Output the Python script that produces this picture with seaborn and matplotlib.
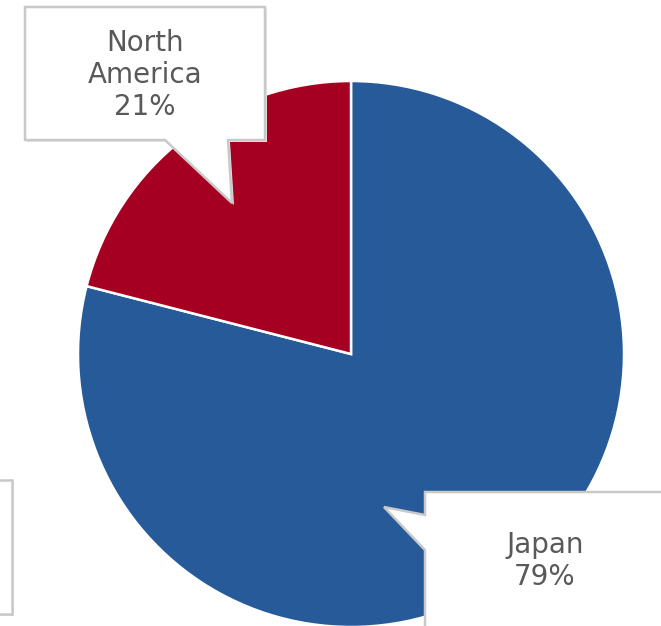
import matplotlib
matplotlib.use('Agg')
import matplotlib.pyplot as plt
from matplotlib.patches import Polygon
import seaborn as sns

# share of sales by region
regions = ['Japan', 'North America']
shares = [79, 21]
colors = ['#275A98', '#A50021']

W, H = 661, 626

sns.set_theme(style='white')
plt.rcParams['font.family'] = ['DejaVu Sans']

fig = plt.figure(figsize=(W / 100, H / 100), dpi=100)
ax = fig.add_axes([0, 0, 1, 1])


def fy(y):
    # picture rows run downward, axes y upward
    return H - y


ax.pie(shares, colors=colors, startangle=90, counterclock=False,
       center=(351, fy(354)), radius=273,
       wedgeprops={'edgecolor': 'white', 'linewidth': 1.8})


def callout(points, label=None, text_xy=None):
    pts = [(x, fy(y)) for x, y in points]
    shadow = Polygon([(x + 2, y - 2) for x, y in pts], closed=True,
                     facecolor='#e6e6e6', edgecolor='none', zorder=3)
    box = Polygon(pts, closed=True, facecolor='white', edgecolor='#c9c9c9',
                  linewidth=1.8, zorder=4, joinstyle='miter')
    ax.add_patch(shadow)
    ax.add_patch(box)
    if label:
        ax.text(text_xy[0], fy(text_xy[1]), label, ha='center', va='center',
                fontsize=20, color='#595959', zorder=5)


def wrap(name, pct):
    return name.replace(' ', '\n') + f'\n{pct}%'


# North America
callout([(25, 7), (265, 7), (265, 140), (228, 140), (232, 203), (165, 140), (25, 140)],
        wrap(regions[1], shares[1]), (145, 75))
# Japan
callout([(425, 492), (720, 492), (720, 720), (425, 720), (425, 550), (384, 507), (425, 515)],
        wrap(regions[0], shares[0]), (545, 561))
# empty box clipped at the left
callout([(-120, 480), (12, 480), (12, 614), (-120, 614)])

ax.set_xlim(0, W)
ax.set_ylim(0, H)
ax.set_aspect('auto')
ax.axis('off')

fig.savefig('out.png', dpi=100)
